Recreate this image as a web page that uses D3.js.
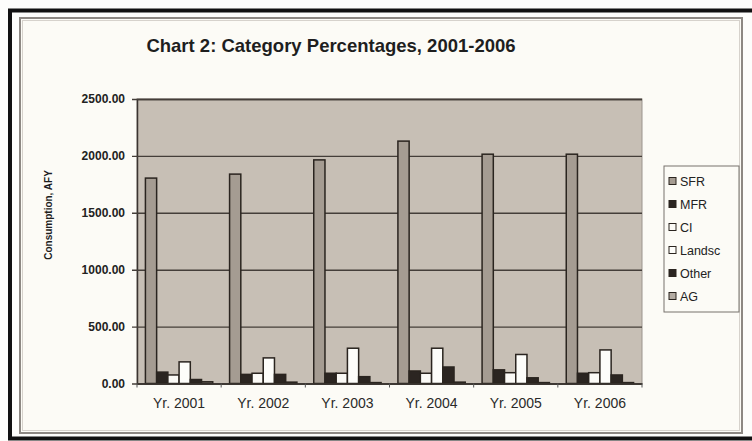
<!DOCTYPE html>
<html>
<head>
<meta charset="utf-8">
<script src="https://cdn.jsdelivr.net/npm/d3@7/dist/d3.min.js"></script>
<style>
  body { margin: 0; background: #fdfdfb; }
  svg { display: block; font-family: "Liberation Sans", Arial, sans-serif; }
</style>
</head>
<body>
<svg id="chart" width="752" height="441"></svg>
<script>
// values (AFY)
const years = ["Yr. 2001", "Yr. 2002", "Yr. 2003", "Yr. 2004", "Yr. 2005", "Yr. 2006"];
const seriesNames = ["SFR", "MFR", "CI", "Landsc", "Other", "AG"];
const sfr = [1805, 1840, 1965, 2130, 2015, 2015];
const mfr = [100, 80, 90, 110, 120, 90];
const ci = [75, 90, 90, 90, 95, 95];
const landsc = [190, 225, 310, 310, 255, 295];
const other = [35, 80, 60, 145, 50, 75];
const ag = [15, 12, 8, 12, 8, 8];
const yTicks = [0, 500, 1000, 1500, 2000, 2500];

const seriesValues = [sfr, mfr, ci, landsc, other, ag];
const fills = ["#a59c92", "#2b2521", "#fbfaf6", "#fdfdfa", "#2b2521", "#b3aba2"];

const svg = d3.select("#chart");

// outer frame and chart area
svg.append("rect")
    .attr("x", 10).attr("y", 10.5)
    .attr("width", 770).attr("height", 428)
    .attr("fill", "#fdfdfb")
    .attr("stroke", "#111").attr("stroke-width", 4);

svg.append("rect")
    .attr("x", 20).attr("y", 18)
    .attr("width", 722).attr("height", 415)
    .attr("fill", "#fcfbf6")
    .attr("stroke", "#8d8883").attr("stroke-width", 2);
svg.append("rect")
    .attr("x", 22.5).attr("y", 20.5)
    .attr("width", 717).attr("height", 410)
    .attr("fill", "none")
    .attr("stroke", "#d6d2cc").attr("stroke-width", 1);

const area = { left: 137, right: 642, top: 99, bottom: 383.5 };

const x0 = d3.scaleBand()
    .domain(years)
    .range([area.left, area.right]);

// gap width 150% -> 0.75 bar each side
const x1 = d3.scaleBand()
    .domain(seriesNames)
    .range([0, x0.bandwidth()])
    .paddingOuter(0.75)
    .paddingInner(0);

const y = d3.scaleLinear()
    .domain([0, 2500])
    .range([area.bottom, area.top]);

// plot background
svg.append("rect")
    .attr("x", area.left).attr("y", area.top)
    .attr("width", area.right - area.left)
    .attr("height", area.bottom - area.top)
    .attr("fill", "#c7bfb5")
    .attr("stroke", "#9a948d").attr("stroke-width", 1);

// gridlines + y axis
const yAxis = d3.axisLeft(y)
    .tickValues(yTicks)
    .tickSize(-(area.right - area.left))
    .tickPadding(12)
    .tickFormat(d3.format(".2f"));

const gy = svg.append("g")
    .attr("transform", `translate(${area.left},0)`)
    .call(yAxis);
gy.select(".domain").attr("stroke", "#3a3430").attr("stroke-width", 1.5);
gy.selectAll(".tick line")
    .attr("x1", -5)
    .attr("stroke", "#443e39").attr("stroke-width", 1.4);
gy.selectAll(".tick text")
    .attr("fill", "#222")
    .style("font-size", "12px")
    .style("font-weight", "bold");

// bars
const g = svg.append("g");
years.forEach((yr, i) => {
    seriesNames.forEach((s, j) => {
        const v = seriesValues[j][i];
        g.append("rect")
            .attr("x", x0(yr) + x1(s))
            .attr("y", y(v))
            .attr("width", x1.bandwidth())
            .attr("height", y(0) - y(v))
            .attr("fill", fills[j])
            .attr("stroke", "#2a241f")
            .attr("stroke-width", 1.5);
    });
});

// x axis
const gx = svg.append("g")
    .attr("transform", `translate(0,${area.bottom})`)
    .call(d3.axisBottom(x0).tickSize(0).tickPadding(15));
gx.select(".domain").attr("stroke", "#3a3430").attr("stroke-width", 1.5);
gx.selectAll(".tick text")
    .attr("fill", "#2a2a2a")
    .style("font-size", "14px");

// small ticks between categories
svg.append("g")
    .selectAll("line")
    .data(years.concat(["end"]))
    .join("line")
    .attr("x1", (d, i) => i < years.length ? x0(d) : area.right)
    .attr("x2", (d, i) => i < years.length ? x0(d) : area.right)
    .attr("y1", area.bottom)
    .attr("y2", area.bottom + 4)
    .attr("stroke", "#555").attr("stroke-width", 1);

// title
svg.append("text")
    .attr("x", 331).attr("y", 52)
    .attr("text-anchor", "middle")
    .attr("fill", "#1e1e1e")
    .style("font-size", "18.5px")
    .style("font-weight", "bold")
    .text("Chart 2: Category Percentages, 2001-2006");

// y axis title
svg.append("text")
    .attr("transform", "translate(52,215) rotate(-90)")
    .attr("text-anchor", "middle")
    .attr("fill", "#1e1e1e")
    .style("font-size", "10px")
    .style("font-weight", "bold")
    .text("Consumption, AFY");

// legend
const legend = svg.append("g");
legend.append("rect")
    .attr("x", 664).attr("y", 166)
    .attr("width", 75).attr("height", 146)
    .attr("fill", "#fcfbf6")
    .attr("stroke", "#77726d").attr("stroke-width", 1);

const ly = d3.scalePoint()
    .domain(seriesNames)
    .range([181, 296]);

seriesNames.forEach((s, j) => {
    legend.append("rect")
        .attr("x", 669).attr("y", ly(s) - 3.5)
        .attr("width", 7).attr("height", 7)
        .attr("fill", fills[j])
        .attr("stroke", "#2a241f").attr("stroke-width", 1);
    legend.append("text")
        .attr("x", 680).attr("y", ly(s) + 4.5)
        .attr("fill", "#222")
        .style("font-size", "12.5px")
        .text(s);
});
</script>
</body>
</html>
